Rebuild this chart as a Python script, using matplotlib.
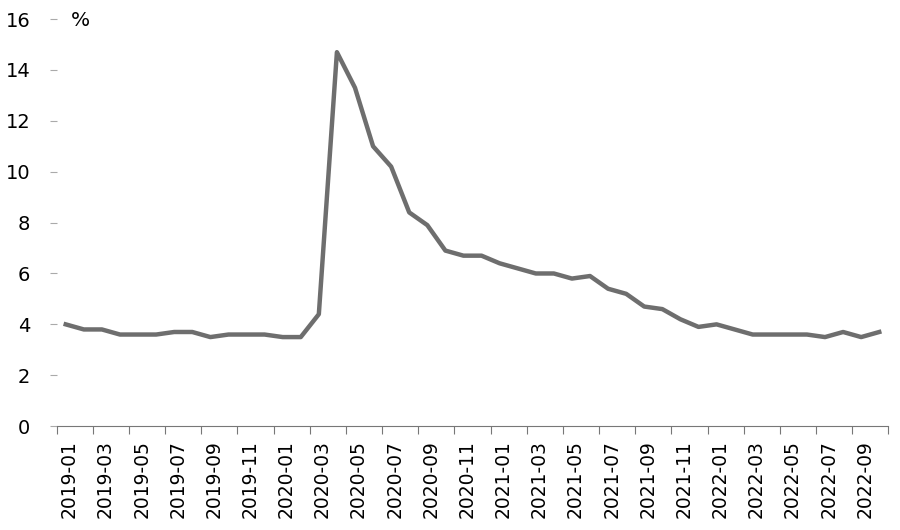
import numpy as np
import matplotlib.pyplot as plt

months = [f"{y}-{m:02d}" for y in range(2019, 2023) for m in range(1, 13)][:46]
rate = [4.0, 3.8, 3.8, 3.6, 3.6, 3.6, 3.7, 3.7, 3.5, 3.6, 3.6, 3.6,
        3.5, 3.5, 4.4, 14.7, 13.3, 11.0, 10.2, 8.4, 7.9, 6.9, 6.7, 6.7,
        6.4, 6.2, 6.0, 6.0, 5.8, 5.9, 5.4, 5.2, 4.7, 4.6, 4.2, 3.9,
        4.0, 3.8, 3.6, 3.6, 3.6, 3.6, 3.5, 3.7, 3.5, 3.7]

fig = plt.figure(figsize=(9, 5.3), dpi=100)
ax = fig.add_axes([0.063, 0.196, 0.924, 0.768])
x = np.arange(len(rate))
ax.plot(x, rate, color='#6e6e6e', linewidth=3.2, solid_joinstyle='round')

ax.set_xlim(-0.5, len(rate) - 0.5)
ax.set_ylim(0, 16)
ax.set_yticks(range(0, 17, 2))
ax.tick_params(axis='y', length=5, color='#aaaaaa', pad=14, labelsize=14)

# category axis: ticks between categories, labels centered
ax.set_xticks(np.arange(-0.5, len(rate), 2))
ax.set_xticklabels([])
ax.set_xticks(x[::2] + 0.2, minor=True)
ax.set_xticklabels(months[::2], minor=True, rotation=90, fontsize=13.5)
ax.tick_params(axis='x', which='major', length=6, color='#777777')
ax.tick_params(axis='x', which='minor', length=0, pad=10)

for s in ['top', 'right', 'left']:
    ax.spines[s].set_visible(False)
ax.spines['bottom'].set_color('#777777')

fig.text(0.079, 0.962, '%', fontsize=14.5, va='center')

fig.savefig('out.png')
